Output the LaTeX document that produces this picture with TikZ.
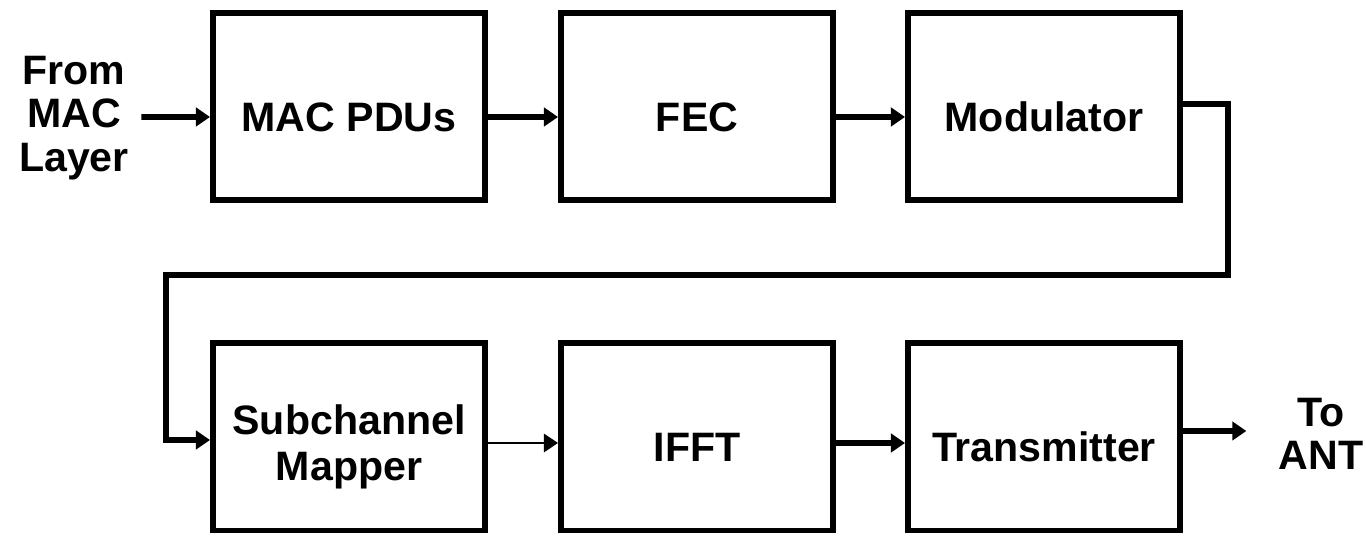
\documentclass[tikz,border=0pt]{standalone}
\usepackage{fontspec}
\setmainfont{Liberation Sans}
\usetikzlibrary{arrows.meta,positioning,calc}

\begin{document}
\begin{tikzpicture}[
    block/.style={rectangle, draw=black, line width=1.7pt, minimum width=2.72cm, minimum height=1.87cm, align=center, text height=14pt, font=\fontsize{11.7}{13}\selectfont\bfseries},
    iotext/.style={align=center, font=\fontsize{11.7}{12.4}\selectfont\bfseries},
    arrow/.style={-{Triangle[length=4pt,width=5.2pt]}, line width=1.6pt},
    thinarrow/.style={-{Triangle[length=4pt,width=5.2pt]}, line width=0.6pt}
  ]
    \useasboundingbox (0,0) rectangle (13.66,5.41);

    % Top row
    \node[block] (mac) at (3.49,4.34) {MAC PDUs};
    \node[block] (fec) at (6.97,4.34) {FEC};
    \node[block] (mod) at (10.44,4.34) {Modulator};

    % Bottom row
    \node[block, text height=27pt] (sub) at (3.49,1.04) {Subchannel\\Mapper};
    \node[block] (ifft) at (6.97,1.04) {IFFT};
    \node[block] (tx) at (10.44,1.04) {Transmitter};

    % In and out
    \node[iotext] (from) at (0.74,4.23) {From\\MAC\\Layer};
    \node[iotext] (to) at (13.21,1.07) {To\\ANT};

    % Connections
    \draw[arrow] (from.east |- 0,4.24) -- ([yshift=-1mm]mac.west);
    \draw[arrow] ([yshift=-1mm]mac.east) -- ([yshift=-1mm]fec.west);
    \draw[arrow] ([yshift=-1mm]fec.east) -- ([yshift=-1mm]mod.west);
    \draw[arrow] ([yshift=0.3mm]mod.east) -- ++(0.45,0) |- (1.66,2.66) |- ([yshift=-0.3mm]sub.west);
    \draw[thinarrow] ([yshift=-0.6mm]sub.east) -- ([yshift=-0.6mm]ifft.west);
    \draw[arrow] ([yshift=-0.6mm]ifft.east) -- ([yshift=-0.6mm]tx.west);
    \draw[arrow] ([yshift=0.6mm]tx.east) -- ([yshift=0.6mm,xshift=-2mm]tx.east -| to.west);
  \end{tikzpicture}
\end{document}
